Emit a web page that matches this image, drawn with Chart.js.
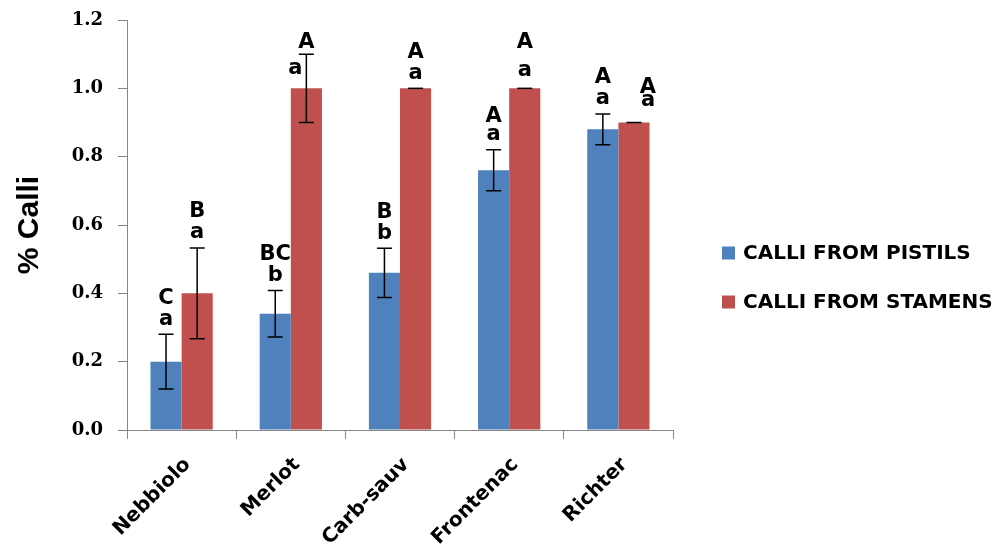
<!DOCTYPE html>
<html>
<head>
<meta charset="utf-8">
<title>% Calli by cultivar</title>
<script src="https://cdn.jsdelivr.net/npm/chart.js@4.4.1/dist/chart.umd.min.js"></script>
<style>
  html, body { margin: 0; padding: 0; background: #ffffff; }
  #wrap { width: 995px; height: 545px; position: relative; }
</style>
</head>
<body>
<div id="wrap"><canvas id="chart" width="995" height="545"></canvas></div>
<script>
// Cultivars and the share of explants that formed calli
const categories = ['Nebbiolo', 'Merlot', 'Carb-sauv', 'Frontenac', 'Richter'];
const pistils = [0.20, 0.34, 0.46, 0.76, 0.88];
const stamens = [0.40, 1.00, 1.00, 1.00, 0.90];

// Standard errors
const pistilsErr = [0.080, 0.068, 0.072, 0.060, 0.045];
const stamensErr = [0.133, 0.100, 0, 0, 0];

// Significance letters (upper: between cultivars, lower: between tissues)
const pistilsUpper = ['C', 'BC', 'B', 'A', 'A'];
const pistilsLower = ['a', 'b', 'b', 'a', 'a'];
const stamensUpper = ['B', 'A', 'A', 'A', 'A'];
const stamensLower = ['a', 'a', 'a', 'a', 'a'];

const yTicks = [0, 0.2, 0.4, 0.6, 0.8, 1.0, 1.2];

const BLUE = '#4F81BD';
const RED = '#C0504D';
const AXIS = '#868686';

// Error bars with caps, drawn through the value scale
const errorBars = {
  id: 'errorBars',
  afterDatasetsDraw(chart) {
    const ctx = chart.ctx;
    const y = chart.scales.y;
    ctx.save();
    ctx.strokeStyle = '#000000';
    ctx.lineWidth = 1.5;
    chart.data.datasets.forEach((ds, di) => {
      const meta = chart.getDatasetMeta(di);
      meta.data.forEach((bar, i) => {
        const v = ds.data[i];
        const e = ds.errors[i];
        const top = y.getPixelForValue(v + e);
        const bot = y.getPixelForValue(v - e);
        const half = 7.5;
        ctx.beginPath();
        if (e > 0) {
          ctx.moveTo(bar.x, top);
          ctx.lineTo(bar.x, bot);
          ctx.moveTo(bar.x - half, bot);
          ctx.lineTo(bar.x + half, bot);
        }
        ctx.moveTo(bar.x - half, top);
        ctx.lineTo(bar.x + half, top);
        ctx.stroke();
      });
    });
    ctx.restore();
  }
};

// Letter pairs placed above each error bar
const sigLetters = {
  id: 'sigLetters',
  afterDatasetsDraw(chart, args, opts) {
    const ctx = chart.ctx;
    const y = chart.scales.y;
    ctx.save();
    ctx.fillStyle = '#000000';
    ctx.font = opts.font;
    ctx.textAlign = 'center';
    ctx.textBaseline = 'middle';
    chart.data.datasets.forEach((ds, di) => {
      const meta = chart.getDatasetMeta(di);
      meta.data.forEach((bar, i) => {
        const top = y.getPixelForValue(ds.data[i] + ds.errors[i]);
        const n = (opts.nudge[di] && opts.nudge[di][i]) || {};
        const dx = n.dx || 0;
        const low = n.low !== undefined ? n.low : opts.low;
        const up = n.up !== undefined ? n.up : opts.up;
        ctx.fillText(ds.lower[i], bar.x + dx + (n.lowDx || 0), top + low);
        ctx.fillText(ds.upper[i], bar.x + dx, top + up);
      });
    });
    ctx.restore();
  }
};

// Legend at the right of the plot
const sideLegend = {
  id: 'sideLegend',
  afterDraw(chart, args, opts) {
    const ctx = chart.ctx;
    ctx.save();
    ctx.font = opts.font;
    ctx.textAlign = 'left';
    ctx.textBaseline = 'middle';
    chart.data.datasets.forEach((ds, di) => {
      const cy = opts.top + di * opts.gap;
      ctx.fillStyle = ds.backgroundColor;
      ctx.fillRect(opts.left, cy - opts.box / 2, opts.box, opts.box);
      ctx.fillStyle = '#000000';
      ctx.fillText(ds.label, opts.left + opts.box + 8, cy + 1);
    });
    ctx.restore();
  }
};

new Chart(document.getElementById('chart'), {
  type: 'bar',
  data: {
    labels: categories,
    datasets: [
      {
        label: 'CALLI FROM PISTILS',
        data: pistils,
        errors: pistilsErr,
        upper: pistilsUpper,
        lower: pistilsLower,
        backgroundColor: BLUE,
        borderWidth: 0,
        categoryPercentage: 0.57,
        barPercentage: 1.0
      },
      {
        label: 'CALLI FROM STAMENS',
        data: stamens,
        errors: stamensErr,
        upper: stamensUpper,
        lower: stamensLower,
        backgroundColor: RED,
        borderWidth: 0,
        categoryPercentage: 0.57,
        barPercentage: 1.0
      }
    ]
  },
  options: {
    responsive: false,
    animation: false,
    devicePixelRatio: 1,
    layout: { padding: { top: 20, right: 322, left: 0, bottom: 0 } },
    plugins: {
      legend: { display: false },
      tooltip: { enabled: false },
      sigLetters: {
        font: 'bold 21px "DejaVu Sans", sans-serif',
        low: -15,
        up: -36,
        nudge: {
          0: { 3: { up: -33 } },
          1: {
            1: { lowDx: -11, low: 14, up: -12 },
            3: { low: -18, up: -46 },
            4: { dx: 14, low: -22, up: -35 }
          }
        }
      },
      sideLegend: {
        font: 'bold 20px "DejaVu Sans", sans-serif',
        left: 722,
        top: 253,
        gap: 49,
        box: 13
      }
    },
    scales: {
      x: {
        afterFit(scale) { scale.height = 115; },
        grid: {
          display: true,
          drawOnChartArea: false,
          drawTicks: true,
          tickLength: 9,
          color: AXIS,
          offset: true
        },
        border: { color: AXIS, width: 1 },
        ticks: {
          color: '#000000',
          font: { family: '"DejaVu Sans", sans-serif', size: 20, weight: 'bold' },
          maxRotation: 45,
          minRotation: 45,
          padding: 14,
          labelOffset: 6
        }
      },
      y: {
        min: 0,
        max: 1.2,
        afterFit(scale) {
          scale.width = 127;
          scale.paddingTop = 0;
          scale.paddingBottom = 0;
        },
        afterBuildTicks(scale) { scale.ticks = yTicks.map(v => ({ value: v })); },
        grid: {
          display: true,
          drawOnChartArea: false,
          drawTicks: true,
          tickLength: 9,
          color: AXIS
        },
        border: { color: AXIS, width: 1 },
        ticks: {
          color: '#000000',
          font: { family: '"DejaVu Serif", serif', size: 18, weight: 'bold' },
          padding: 15,
          callback: v => v.toFixed(1)
        },
        title: {
          display: true,
          text: '% Calli',
          color: '#000000',
          font: { family: '"Liberation Sans", Arial, sans-serif', size: 30, weight: 'bold' },
          padding: { top: 12, bottom: 0 }
        }
      }
    }
  },
  plugins: [errorBars, sigLetters, sideLegend]
});
</script>
</body>
</html>
